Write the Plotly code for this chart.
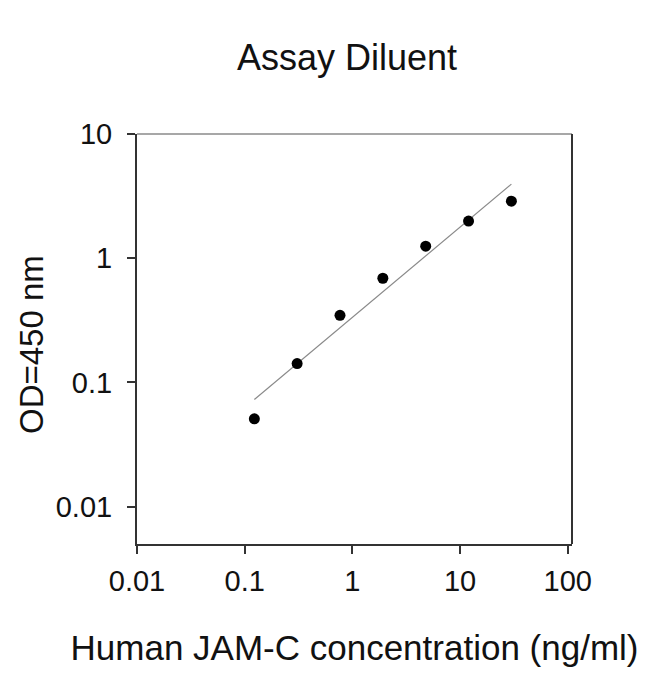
import plotly.graph_objects as go

# JAM-C standard curve
conc = [0.123, 0.307, 0.768, 1.92, 4.8, 12.0, 30.0]
od450 = [0.051, 0.142, 0.347, 0.69, 1.25, 1.99, 2.88]

# fitted line end points
fit_x = [0.123, 30.0]
fit_y = [0.073, 3.95]

x_ticks = [0.01, 0.1, 1, 10, 100]
x_labels = ["0.01", "0.1", "1", "10", "100"]
y_ticks = [0.01, 0.1, 1, 10]
y_labels = ["0.01", "0.1", "1", "10"]

font = "Liberation Sans, Arial, sans-serif"

fig = go.Figure()
fig.add_trace(go.Scatter(x=fit_x, y=fit_y, mode="lines",
                         line=dict(color="#8a8a8a", width=1.2), hoverinfo="skip"))
fig.add_trace(go.Scatter(x=conc, y=od450, mode="markers",
                         marker=dict(color="black", size=11, symbol="circle")))

fig.update_xaxes(type="log", range=[-2, 2.04], showgrid=False, zeroline=False,
                 automargin=False,
                 showline=True, linecolor="#333", linewidth=2,
                 ticks="outside", ticklen=8, tickwidth=2, tickcolor="#333",
                 tickvals=x_ticks, ticktext=x_labels, ticklabelstandoff=2,
                 tickfont=dict(family=font, size=29, color="#111"),
                 title=dict(text="Human JAM-C concentration (ng/ml)", standoff=40,
                            font=dict(family=font, size=35, color="#111")))
fig.update_yaxes(type="log", range=[-2.3, 1], showgrid=False, zeroline=False,
                 automargin=False,
                 showline=True, linecolor="#333", linewidth=2,
                 ticks="outside", ticklen=8, tickwidth=2, tickcolor="#333",
                 tickvals=y_ticks, ticktext=y_labels, ticklabelstandoff=9,
                 tickfont=dict(family=font, size=29, color="#111"))

# y title as an annotation so it can sit close to the left edge
fig.add_annotation(text="OD=450 nm", xref="paper", yref="paper", x=0, y=0.5,
                   xanchor="center", yanchor="middle", xshift=-106, yshift=-6,
                   textangle=-90, showarrow=False,
                   font=dict(family=font, size=33, color="#111"))

# top frame line is lighter than the rest
fig.add_shape(type="line", xref="paper", yref="paper", x0=0, x1=1, y0=1, y1=1,
              line=dict(color="#8a8a8a", width=1.5))
fig.add_shape(type="line", xref="paper", yref="paper", x0=1, x1=1, y0=0, y1=1,
              line=dict(color="#333", width=2))

fig.update_layout(
    width=650, height=674,
    margin=dict(l=129, r=86, t=126, b=138),
    paper_bgcolor="white", plot_bgcolor="white",
    showlegend=False,
    title=dict(text="Assay Diluent", x=0.5215, xanchor="center", y=0.927, yanchor="middle",
               font=dict(family=font, size=36, color="#111")),
)

fig.write_html("out.html")
